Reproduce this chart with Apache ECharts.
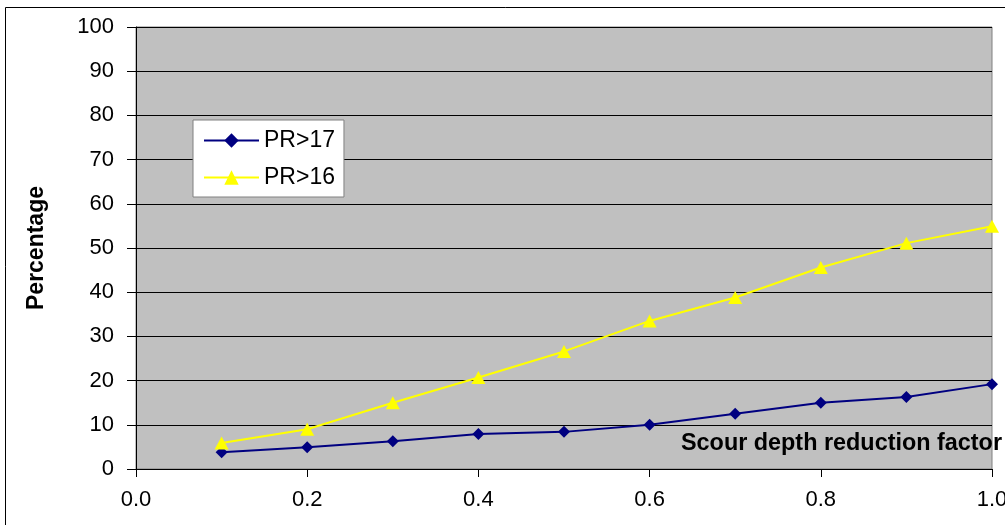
<!DOCTYPE html>
<html>
<head>
<meta charset="utf-8">
<script src="https://cdn.jsdelivr.net/npm/echarts@6/dist/echarts.min.js"></script>
<style>
  html, body { margin: 0; padding: 0; background: #fff; }
  #chart { width: 1005px; height: 525px; }
</style>
</head>
<body>
<div id="chart"></div>
<script>
// reduction factor on the x axis
const factors = [0.1, 0.2, 0.3, 0.4, 0.5, 0.6, 0.7, 0.8, 0.9, 1.0];
const pr17 = [3.8, 4.9, 6.3, 7.9, 8.4, 10.0, 12.5, 15.0, 16.3, 19.2];
const pr16 = [5.9, 9.0, 15.0, 20.7, 26.6, 33.5, 38.8, 45.6, 51.1, 54.9];
const seriesNames = ['PR>17', 'PR>16'];

const font = 'Liberation Sans, Arial, sans-serif';
const pairs = ys => factors.map((x, i) => [x, ys[i]]);

const chart = echarts.init(document.getElementById('chart'));
chart.setOption({
  backgroundColor: '#fff',
  animation: false,
  textStyle: { fontFamily: font },
  grid: {
    left: 136, right: 13, top: 27, bottom: 56,
    outerBoundsMode: 'none',
    show: true, backgroundColor: '#c0c0c0',
    borderColor: '#808080', borderWidth: 1
  },
  legend: {
    data: seriesNames,
    orient: 'vertical',
    left: 193, top: 120,
    padding: [9, 9, 8, 10],
    itemGap: 14,
    itemWidth: 55, itemHeight: 18,
    backgroundColor: '#fff',
    borderColor: '#808080', borderWidth: 1,
    textStyle: { fontSize: 23, lineHeight: 22, color: '#000', fontFamily: font }
  },
  xAxis: {
    type: 'value', min: 0, max: 1, interval: 0.2,
    axisLine: { lineStyle: { color: '#000', width: 1 } },
    axisTick: { show: true, length: 8, lineStyle: { color: '#000' } },
    axisLabel: { fontSize: 22, color: '#000', margin: 20, formatter: v => v.toFixed(1) },
    splitLine: { show: false }
  },
  yAxis: {
    type: 'value', min: 0, max: 100, interval: 10,
    name: 'Percentage', nameLocation: 'middle', nameRotate: 90, nameGap: 88,
    nameTextStyle: { fontSize: 23, fontWeight: 'bold', color: '#000', fontFamily: font },
    axisLine: { show: true, lineStyle: { color: '#000', width: 1 } },
    axisTick: { show: true, length: 9, lineStyle: { color: '#000' } },
    axisLabel: { fontSize: 22, color: '#000', margin: 22 },
    splitLine: { lineStyle: { color: '#000', width: 1 } }
  },
  graphic: [
    {
      type: 'rect', silent: true, z: 100,
      shape: { x: 5.5, y: 7.5, width: 1100, height: 600 },
      style: { fill: 'none', stroke: '#000', lineWidth: 1 }
    },
    {
      type: 'text', left: 681, top: 432, z: 100,
      style: {
        text: 'Scour depth reduction factor',
        font: 'bold 23.4px ' + font, fill: '#000'
      }
    }
  ],
  series: [
    {
      name: seriesNames[0], type: 'line', data: pairs(pr17),
      symbol: 'diamond', symbolSize: 12,
      lineStyle: { color: '#000080', width: 2 },
      itemStyle: { color: '#000080' }
    },
    {
      name: seriesNames[1], type: 'line', data: pairs(pr16),
      symbol: 'triangle', symbolSize: [14, 13],
      lineStyle: { color: '#ffff00', width: 2 },
      itemStyle: { color: '#ffff00' }
    }
  ]
});
</script>
</body>
</html>
